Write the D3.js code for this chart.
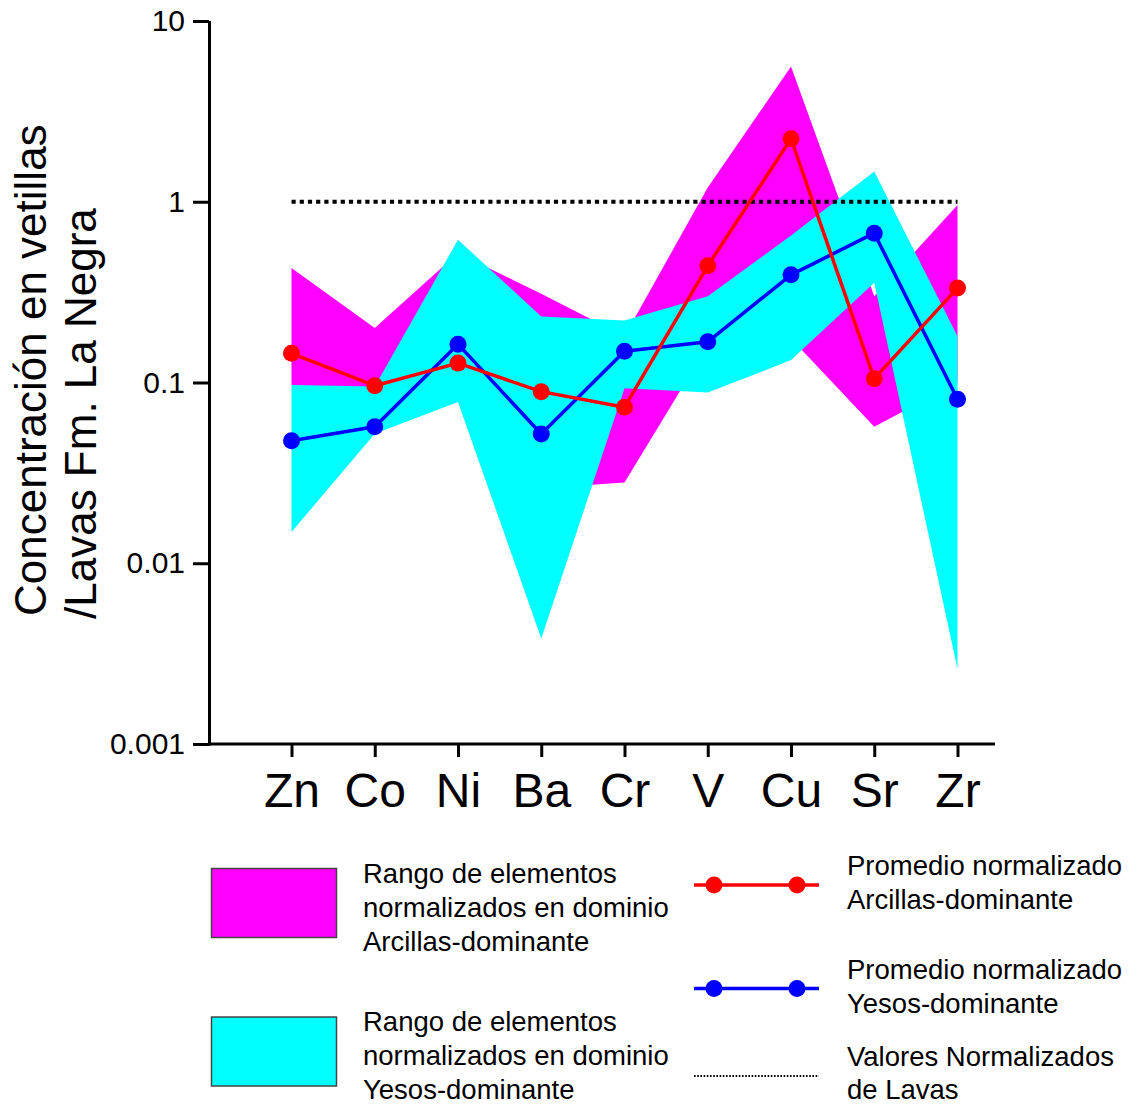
<!DOCTYPE html>
<html>
<head>
<meta charset="utf-8">
<script src="https://cdn.jsdelivr.net/npm/d3@7"></script>
<style>
  html, body { margin: 0; padding: 0; background: #fff; }
  svg { display: block; font-family: "Liberation Sans", Arial, Helvetica, sans-serif; }
</style>
</head>
<body>
<svg id="chart" width="1132" height="1105"></svg>
<script>
// Elements along the x axis
const categories = ["Zn", "Co", "Ni", "Ba", "Cr", "V", "Cu", "Sr", "Zr"];

// Range of normalized values, clay-dominant domain (max / min)
const arcillasMax = [0.43, 0.20, 0.52, 0.31, 0.18, 1.2, 5.6, 0.30, 0.96];
const arcillasMin = [0.097, 0.09, 0.09, 0.026, 0.028, 0.16, 0.175, 0.057, 0.10];

// Range of normalized values, gypsum-dominant domain (max / min)
const yesosMax = [0.097, 0.095, 0.616, 0.232, 0.22, 0.30, 0.65, 1.47, 0.18];
const yesosMin = [0.0149, 0.052, 0.078, 0.00384, 0.093, 0.088, 0.133, 0.356, 0.0026];

// Normalized averages
const arcillasProm = [0.145, 0.096, 0.128, 0.089, 0.073, 0.442, 2.23, 0.105, 0.333];
const yesosProm = [0.0476, 0.0569, 0.163, 0.0519, 0.149, 0.168, 0.394, 0.67, 0.0807];

// Normalized lava reference level
const lavasRef = categories.map(() => 1);

// Y-axis tick values and labels
const yTicks = [0.001, 0.01, 0.1, 1, 10];
const yTickLabels = ["0.001", "0.01", "0.1", "1", "10"];

const svg = d3.select("#chart");

const axisX0 = 209, axisX1 = 995, axisTop = 21, axisBottom = 744;

const x = d3.scalePoint().domain(categories).range([291.5, 957.5]);
const y = d3.scaleLog().domain([0.001, 10]).range([axisBottom, axisTop]);

const rows = (lo, hi) => categories.map((c, i) => ({ c, lo: lo[i], hi: hi[i] }));
const band = d3.area().x(d => x(d.c)).y0(d => y(d.lo)).y1(d => y(d.hi)).curve(d3.curveLinear);

// Range bands
svg.append("path").datum(rows(arcillasMin, arcillasMax))
  .attr("d", band).attr("fill", "#ff00ff");
svg.append("path").datum(rows(yesosMin, yesosMax))
  .attr("d", band).attr("fill", "#00ffff");

// Reference line at 1
const line = d3.line().x((d, i) => x(categories[i])).y(d => y(d));
svg.append("path").datum(lavasRef)
  .attr("d", line).attr("fill", "none")
  .attr("stroke", "#000").attr("stroke-width", 4)
  .attr("stroke-dasharray", "4.2 4");

// Average series
function series(values, color) {
  svg.append("path").datum(values)
    .attr("d", line).attr("fill", "none")
    .attr("stroke", color).attr("stroke-width", 3.5)
    .attr("stroke-linejoin", "round");
  svg.append("g").selectAll("circle").data(values).join("circle")
    .attr("cx", (d, i) => x(categories[i]))
    .attr("cy", d => y(d))
    .attr("r", 8.5)
    .attr("fill", color);
}
series(yesosProm, "#0000ff");
series(arcillasProm, "#ff0000");

// Y axis
const yAxis = d3.axisLeft(y)
  .tickValues(yTicks)
  .tickFormat((d, i) => yTickLabels[i])
  .tickSize(16).tickSizeOuter(0).tickPadding(8);
const gy = svg.append("g").attr("transform", `translate(${axisX0},0)`).call(yAxis);
gy.select(".domain").attr("stroke-width", 3).attr("d", `M0.5,${axisTop}V${axisBottom + 1.5}`);
gy.selectAll(".tick line").attr("stroke-width", 3);
gy.selectAll(".tick text").attr("font-size", 30).attr("fill", "#000")
  .attr("font-family", "'Liberation Sans', Arial, sans-serif");

// X axis
const xAxis = d3.axisBottom(x).tickSize(13).tickSizeOuter(0).tickPadding(16);
const gx = svg.append("g").attr("transform", `translate(0,${axisBottom})`).call(xAxis);
gx.select(".domain").remove();
gx.append("line").attr("x1", axisX0 - 1).attr("x2", axisX1)
  .attr("y1", 0).attr("y2", 0).attr("stroke", "#000").attr("stroke-width", 3);
gx.selectAll(".tick line").attr("stroke-width", 3);
gx.selectAll(".tick text").attr("font-size", 48).attr("fill", "#000")
  .attr("font-family", "'Liberation Sans', Arial, sans-serif")
  .attr("dy", "0.71em");

// Y axis title
const title = svg.append("text")
  .attr("transform", "rotate(-90)")
  .attr("font-size", 44).attr("fill", "#000")
  .attr("text-anchor", "start");
title.append("tspan").attr("x", -616).attr("y", 46).text("Concentración en vetillas");
title.append("tspan").attr("x", -619).attr("y", 96).text("/Lavas Fm. La Negra");

// Legend
const legend = svg.append("g").attr("font-size", 27.5).attr("fill", "#000");

function legendBox(yTop, color, lines) {
  legend.append("rect")
    .attr("x", 211.5).attr("y", yTop).attr("width", 125).attr("height", 69)
    .attr("fill", color).attr("stroke", "#444").attr("stroke-width", 1.5);
  const t = legend.append("text");
  lines.forEach((s, i) => t.append("tspan").attr("x", 363).attr("y", yTop + 14 + i * 34).text(s));
}
legendBox(868.5, "#ff00ff", ["Rango de elementos", "normalizados en dominio", "Arcillas-dominante"]);
legendBox(1017, "#00ffff", ["Rango de elementos", "normalizados en dominio", "Yesos-dominante"]);

function legendLine(yc, color, lines) {
  legend.append("line").attr("x1", 694).attr("x2", 819).attr("y1", yc).attr("y2", yc)
    .attr("stroke", color).attr("stroke-width", 3.5);
  [714, 797].forEach(cx => legend.append("circle").attr("cx", cx).attr("cy", yc).attr("r", 8.5).attr("fill", color));
  const t = legend.append("text");
  lines.forEach((s, i) => t.append("tspan").attr("x", 847).attr("y", yc - 10 + i * 34).text(s));
}
legendLine(885, "#ff0000", ["Promedio normalizado", "Arcillas-dominante"]);
legendLine(988.5, "#0000ff", ["Promedio normalizado", "Yesos-dominante"]);

legend.append("line").attr("x1", 694).attr("x2", 819).attr("y1", 1076).attr("y2", 1076)
  .attr("stroke", "#000").attr("stroke-width", 2).attr("stroke-dasharray", "1.6 1.6");
const tv = legend.append("text");
["Valores Normalizados", "de Lavas"].forEach((s, i) =>
  tv.append("tspan").attr("x", 847).attr("y", 1066 + i * 33).text(s));
</script>
</body>
</html>
